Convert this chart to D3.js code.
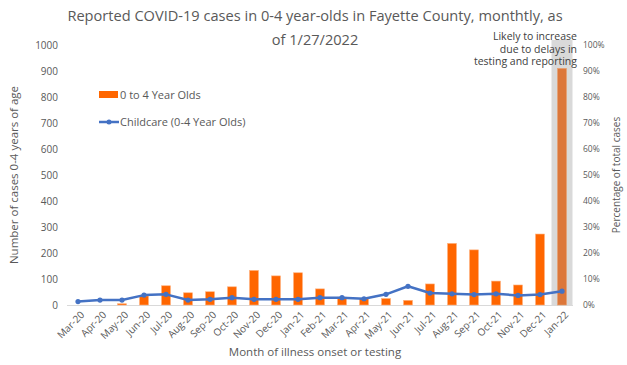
<!DOCTYPE html>
<html><head><meta charset="utf-8">
<script src="https://cdn.jsdelivr.net/npm/d3@7"></script>
<style>body{margin:0;background:#fff}svg{display:block}text{font-family:"Open Sans",sans-serif;fill:#595959}</style>
</head><body><svg id="c" width="627" height="365"></svg>
<script>
const months = ["Mar-20","Apr-20","May-20","Jun-20","Jul-20","Aug-20","Sep-20","Oct-20","Nov-20","Dec-20","Jan-21","Feb-21","Mar-21","Apr-21","May-21","Jun-21","Jul-21","Aug-21","Sep-21","Oct-21","Nov-21","Dec-21","Jan-22"];
const cases = [0,0,5,35,74,47,51,70,133,112,124,62,30,25,25,18,81,237,212,92,77,273,910];
const childcarePct = [1.3,1.9,1.9,3.8,4.1,1.9,2.2,2.8,2.2,2.2,2.2,2.8,2.8,2.4,4.1,7.2,4.6,4.3,4.0,4.3,3.7,4.0,5.3];
const leftTicks = [0,100,200,300,400,500,600,700,800,900,1000];
const rightTicks = [0,10,20,30,40,50,60,70,80,90,100];
const titleLines = ["Reported COVID-19 cases in 0-4 year-olds in Fayette County, monthtly, as","of 1/27/2022"];
const noteLines = ["Likely to increase","due to delays in","testing and reporting"];

const svg = d3.select("#c");
const L=67, R=573, T=45, B=305;
const xc = d3.scalePoint().domain(months).range([L,R]).padding(0.5);
const y = d3.scaleLinear().domain([0,1000]).range([B,T]);
const y2 = d3.scaleLinear().domain([0,100]).range([B,T]);

// title
svg.selectAll(".title").data(titleLines).join("text")
  .attr("x",315).attr("y",(d,i)=>21+i*24).attr("text-anchor","middle")
  .style("font-size","14.6px").text(d=>d);

// highlight band for last month
const last = months[months.length-1];
svg.append("rect").attr("x",xc(last)-10.5).attr("width",21).attr("y",40).attr("height",B-40).attr("fill","#d9d9d9");

// axis line
svg.append("line").attr("x1",L).attr("x2",R).attr("y1",B+0.5).attr("y2",B+0.5).attr("stroke","#d9d9d9");

// bars
svg.selectAll(".bar").data(months).join("rect")
  .attr("x",d=>xc(d)-4.5).attr("width",9)
  .attr("y",(d,i)=>y(cases[i])).attr("height",(d,i)=>B-y(cases[i]))
  .attr("fill",(d,i)=>i===months.length-1?"#dc773a":"#ff6600")
  .attr("stroke",(d,i)=>i===months.length-1?"#e8a070":"#ffb380").attr("stroke-width",0.6);

// line
const line = d3.line().x(d=>xc(d.m)).y(d=>y2(d.v));
const pts = months.map((m,i)=>({m,v:childcarePct[i]}));
svg.append("path").datum(pts).attr("d",line).attr("fill","none").attr("stroke","#4472c4").attr("stroke-width",2.5).attr("stroke-linejoin","round");
svg.selectAll(".pt").data(pts).join("circle").attr("cx",d=>xc(d.m)).attr("cy",d=>y2(d.v)).attr("r",2.6).attr("fill","#4472c4");

// left axis
const ga = svg.append("g").attr("transform",`translate(${L},0)`)
  .call(d3.axisLeft(y).tickValues(leftTicks).tickSize(0).tickPadding(9).tickFormat(d3.format("d")));
ga.select(".domain").remove();
ga.selectAll("text").style("font-size","10px").style("fill","#595959").style("font-family","Open Sans");

// right axis
const gr = svg.append("g").attr("transform",`translate(${R+10},0)`)
  .call(d3.axisRight(y2).tickValues(rightTicks).tickSize(0).tickPadding(0).tickFormat(d=>d+"%"));
gr.select(".domain").remove();
gr.selectAll("text").style("font-size","8.5px").style("fill","#595959").style("font-family","Open Sans");

// x axis labels
const gx = svg.append("g").attr("transform",`translate(0,${B})`)
  .call(d3.axisBottom(xc).tickSize(0).tickPadding(0));
gx.select(".domain").remove();
gx.selectAll("text").attr("transform","translate(4,8) rotate(-45)").attr("dy","0.35em").attr("text-anchor","end")
  .style("font-size","10px").style("fill","#595959").style("font-family","Open Sans");

// axis titles
svg.append("text").attr("transform","translate(18,175) rotate(-90)").attr("text-anchor","middle").style("font-size","11.5px").text("Number of cases 0-4 years of age");
svg.append("text").attr("transform","translate(620,175) rotate(-90)").attr("text-anchor","middle").style("font-size","10px").text("Percentage of total cases");
svg.append("text").attr("x",315).attr("y",356).attr("text-anchor","middle").style("font-size","11.5px").text("Month of illness onset or testing");

// note
svg.selectAll(".note").data(noteLines).join("text")
  .attr("x",577).attr("y",(d,i)=>40+i*12.5).attr("text-anchor","end").style("font-size","10.5px").style("fill","#404040").text(d=>d);

// legend
svg.append("rect").attr("x",99).attr("y",91).attr("width",19).attr("height",7).attr("fill","#ff6600");
svg.append("text").attr("x",120).attr("y",99).style("font-size","11px").text("0 to 4 Year Olds");
svg.append("line").attr("x1",99).attr("x2",119).attr("y1",122).attr("y2",122).attr("stroke","#4472c4").attr("stroke-width",2.5);
svg.append("circle").attr("cx",109).attr("cy",122).attr("r",2.5).attr("fill","#4472c4");
svg.append("text").attr("x",120).attr("y",126).style("font-size","11px").text("Childcare (0-4 Year Olds)");
</script></body></html>
